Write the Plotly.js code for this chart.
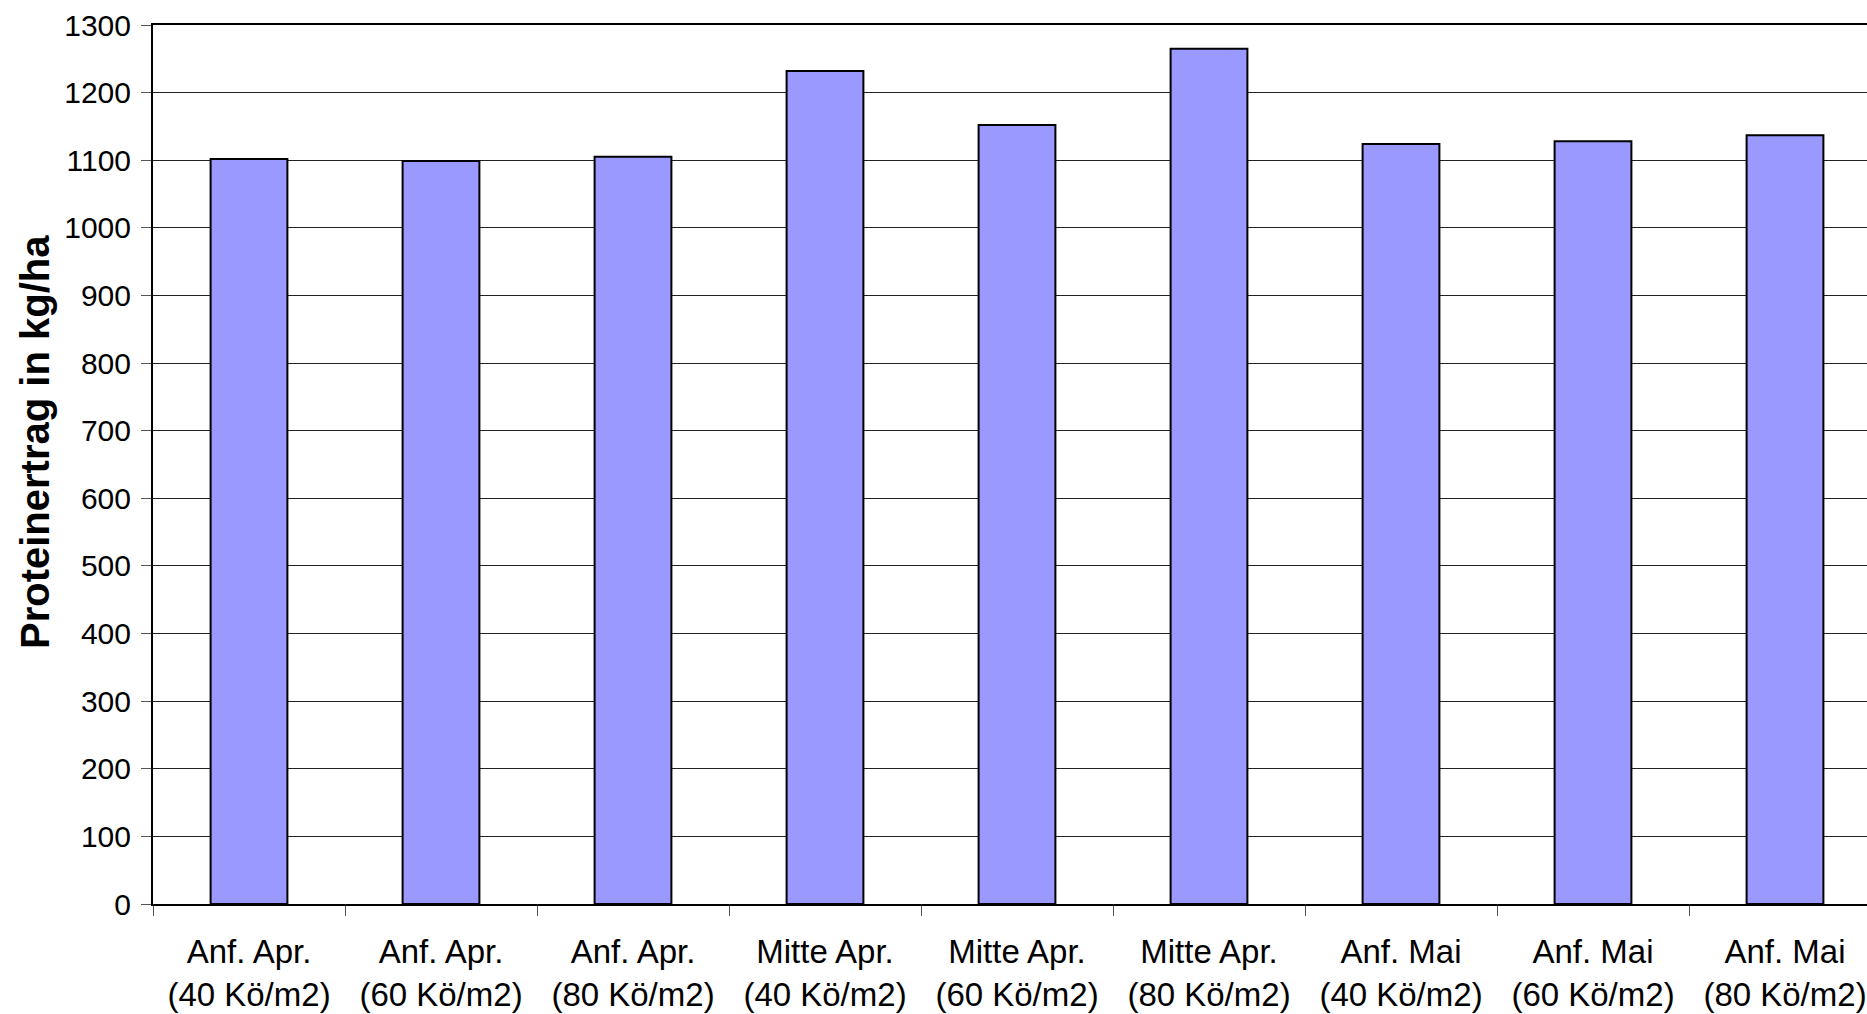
<!DOCTYPE html>
<html>
<head>
<meta charset="utf-8">
<script src="https://cdn.plot.ly/plotly-3.0.1.min.js"></script>
<style>
html, body { margin: 0; padding: 0; overflow: hidden; background: #fff; }
#chart { width: 1885px; height: 1014px; }
</style>
</head>
<body>
<div id="chart"></div>
<script>
const categories = [
  "Anf. Apr.<br>(40 Kö/m2)",
  "Anf. Apr.<br>(60 Kö/m2)",
  "Anf. Apr.<br>(80 Kö/m2)",
  "Mitte Apr.<br>(40 Kö/m2)",
  "Mitte Apr.<br>(60 Kö/m2)",
  "Mitte Apr.<br>(80 Kö/m2)",
  "Anf. Mai<br>(40 Kö/m2)",
  "Anf. Mai<br>(60 Kö/m2)",
  "Anf. Mai<br>(80 Kö/m2)"
];
const proteinYield = [1102, 1099, 1105, 1232, 1152, 1265, 1124, 1128, 1137];
const yTickValues = [0, 100, 200, 300, 400, 500, 600, 700, 800, 900, 1000, 1100, 1200, 1300];
const yTitle = "Proteinertrag in kg/ha";

const trace = {
  type: "bar",
  x: categories,
  y: proteinYield,
  width: 0.4,
  marker: { color: "#9999FF", line: { color: "#000000", width: 2 } },
  hoverinfo: "x+y"
};

const layout = {
  width: 1885,
  height: 1014,
  margin: { l: 153, r: 4, t: 25, b: 110 },
  paper_bgcolor: "#ffffff",
  plot_bgcolor: "#ffffff",
  showlegend: false,
  font: { family: "Liberation Sans, Arial, sans-serif", color: "#000000" },
  xaxis: {
    type: "category",
    range: [-0.5, 8.5],
    tickson: "boundaries",
    ticks: "outside",
    ticklen: 10,
    tickwidth: 1,
    tickcolor: "#555555",
    showline: true,
    linecolor: "#000000",
    linewidth: 2,
    mirror: true,
    showgrid: false,
    tickfont: { size: 33, family: "Liberation Sans, Arial, sans-serif", color: "#000000" },
    ticklabelstandoff: 17,
    automargin: false
  },
  yaxis: {
    range: [0, 1300],
    tickvals: yTickValues,
    ticktext: yTickValues.map(String),
    ticks: "outside",
    ticklen: 10,
    tickwidth: 1,
    tickcolor: "#555555",
    showline: true,
    linecolor: "#000000",
    linewidth: 2,
    mirror: true,
    showgrid: true,
    gridcolor: "#222222",
    gridwidth: 1,
    zeroline: false,
    tickfont: { size: 30, family: "Liberation Sans, Arial, sans-serif", color: "#000000" },
    ticklabelstandoff: 4,
    title: {
      text: "<b>&nbsp;&nbsp;&nbsp;&nbsp;" + yTitle + "</b>",
      font: { size: 40, family: "Liberation Sans, Arial, sans-serif", color: "#000000" },
      standoff: 2
    },
    automargin: false
  },
  bargap: 0.6
};

Plotly.newPlot("chart", [trace], layout, { displayModeBar: false, staticPlot: true });
</script>
</body>
</html>
